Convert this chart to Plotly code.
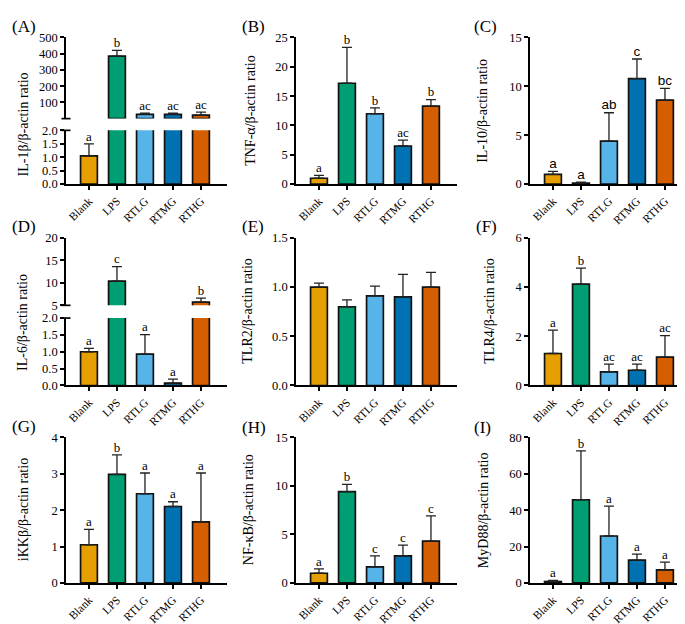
import plotly.graph_objects as go

W, H = 685, 624

groups = ["Blank", "LPS", "RTLG", "RTMG", "RTHG"]
colors = ["#E69F00", "#009E73", "#56B4E9", "#0072B2", "#D55E00"]

# ratio values (mean) and upper SD
il1b = [1.05, 385, 26, 26, 21]
il1b_sd = [0.45, 35, 8, 8, 19]
il1b_sig = ["a", "b", "ac", "ac", "ac"]

tnfa = [1.0, 17.2, 12.0, 6.5, 13.3]
tnfa_sd = [0.5, 6.1, 1.0, 1.0, 1.1]
tnfa_sig = ["a", "b", "b", "ac", "b"]

il10 = [1.0, 0.1, 4.4, 10.8, 8.6]
il10_sd = [0.3, 0.1, 2.9, 2.0, 1.2]
il10_sig = ["a", "a", "ab", "c", "bc"]

il6 = [1.0, 10.4, 0.93, 0.07, 5.7]
il6_sd = [0.1, 3.2, 0.58, 0.12, 0.9]
il6_sig = ["a", "c", "a", "a", "b"]

tlr2 = [1.0, 0.8, 0.91, 0.9, 1.0]
tlr2_sd = [0.04, 0.07, 0.1, 0.23, 0.15]

tlr4 = [1.3, 4.12, 0.55, 0.62, 1.15]
tlr4_sd = [0.95, 0.65, 0.32, 0.25, 0.88]
tlr4_sig = ["a", "b", "ac", "ac", "ac"]

ikkb = [1.05, 2.98, 2.45, 2.1, 1.68]
ikkb_sd = [0.42, 0.54, 0.57, 0.13, 1.34]
ikkb_sig = ["a", "b", "a", "a", "a"]

nfkb = [1.0, 9.4, 1.65, 2.8, 4.3]
nfkb_sd = [0.45, 0.75, 1.15, 1.1, 2.6]
nfkb_sig = ["a", "b", "c", "c", "c"]

myd88 = [0.8, 45.7, 25.8, 12.5, 7.2]
myd88_sd = [0.6, 26.8, 16.4, 3.3, 4.3]
myd88_sig = ["a", "b", "a", "a", "a"]

SERIF = "Liberation Serif"
SANS = "Liberation Sans"

def X(px):
    return px / W

def Y(py):
    return 1 - py / H

def aid(n):
    return "" if n == 1 else str(n)

col_left = [58, 288, 522]
col_len = 161
rows = [(23, 173), (228, 379), (432, 581)]
label_pos = [(2, 12), (232, 12), (464, 12), (2, 216), (232, 216), (466, 216), (2, 421), (232, 422), (464, 422)]
ytitle_x = [15, 243, 475, 15, 240, 482, 15, 240, 475]

panels = [
    dict(tag="(A)", title="IL-1β/β-actin ratio", v=il1b, sd=il1b_sd, sig=il1b_sig,
         low=(0, 2, 0.5, ".1f"), high=(0, 500, 100), seg=((118, 173), (23, 106)), tc=112),
    dict(tag="(B)", title="TNF-α/β-actin ratio", v=tnfa, sd=tnfa_sd, sig=tnfa_sig, low=(0, 25, 5, "")),
    dict(tag="(C)", title="IL-10/β-actin ratio", v=il10, sd=il10_sd, sig=il10_sig, low=(0, 15, 5, ""), sans=True),
    dict(tag="(D)", title="IL-6/β-actin ratio", v=il6, sd=il6_sd, sig=il6_sig,
         low=(0, 2, 0.5, ".1f"), high=(5, 20, 5), seg=((310, 379), (228, 297)), tc=315),
    dict(tag="(E)", title="TLR2/β-actin ratio", v=tlr2, sd=tlr2_sd, sig=None, low=(0, 1.5, 0.5, ".1f")),
    dict(tag="(F)", title="TLR4/β-actin ratio", v=tlr4, sd=tlr4_sd, sig=tlr4_sig, low=(0, 6, 2, "")),
    dict(tag="(G)", title="iKKβ/β-actin ratio", v=ikkb, sd=ikkb_sd, sig=ikkb_sig, low=(0, 4, 1, "")),
    dict(tag="(H)", title="NF-κB/β-actin ratio", v=nfkb, sd=nfkb_sd, sig=nfkb_sig, low=(0, 15, 5, "")),
    dict(tag="(I)", title="MyD88/β-actin ratio", v=myd88, sd=myd88_sd, sig=myd88_sig, low=(0, 80, 20, "")),
]

fig = go.Figure()
layout = dict(width=W, height=H, margin=dict(l=0, r=0, t=0, b=0),
              paper_bgcolor="white", plot_bgcolor="rgba(0,0,0,0)",
              showlegend=False, font=dict(family=SERIF, color="black"),
              annotations=[], shapes=[])

axis_common = dict(showline=True, linecolor="black", linewidth=1.7, ticks="outside",
                   ticklen=4, tickwidth=1.5, tickcolor="black", showgrid=False, zeroline=False,
                   tickfont=dict(family=SERIF, size=12.5, color="black"))

extra = 10
xs = list(range(len(groups)))

def add_bars(p, xa, ya, show):
    vals = [v if s else None for v, s in zip(p["v"], show)]
    fig.add_trace(go.Bar(
        x=xs, y=vals, width=0.6, xaxis=xa, yaxis=ya,
        marker=dict(color=colors, line=dict(color="#111111", width=1.7)),
        error_y=dict(type="data", array=p["sd"], arrayminus=[0] * 5, symmetric=False,
                     color="#222222", thickness=1.3, width=5),
        hoverinfo="skip"))

def add_sig(p, xa, ya, show):
    if not p["sig"]:
        return
    tops = [v + s if sh else None for v, s, sh in zip(p["v"], p["sd"], show)]
    fnt = dict(family=SANS if p.get("sans") else SERIF, size=13.5 if p.get("sans") else 13, color="black")
    fig.add_trace(go.Scatter(x=xs, y=tops, xaxis=xa, yaxis=ya, mode="text",
                             text=p["sig"], textposition="top center", textfont=fnt,
                             cliponaxis=False, hoverinfo="skip"))

for i, p in enumerate(panels):
    r, c = divmod(i, 3)
    n = i + 1
    xa, ya = "x" + aid(n), "y" + aid(n)
    left = col_left[c]
    top, bot = rows[r]
    lo, hi, dt, fmt = p["low"]

    layout["xaxis" + aid(n)] = dict(axis_common, domain=[X(left), X(left + col_len)], anchor=ya,
                                    range=[-0.82, 4.93], tickvals=xs, ticktext=groups, tickangle=-45,
                                    tickfont=dict(family=SERIF, size=11.5, color="black"))
    if "high" in p:
        (lt, lb), (ut, ub) = p["seg"]
        layout["yaxis" + aid(n)] = dict(axis_common, domain=[Y(lb), Y(lt)], anchor=xa,
                                        range=[lo, hi], dtick=dt, tick0=0, tickformat=fmt)
        extra += 1
        yu = f"y{extra}"
        hlo, hhi, hdt = p["high"]
        layout[f"yaxis{extra}"] = dict(axis_common, domain=[Y(ub), Y(ut)], anchor=xa,
                                       range=[hlo, hhi], tickvals=list(range(hlo if hlo else hdt, hhi + 1, hdt)))
        up_show = [v > hi for v in p["v"]]
        sig_low = [v + s <= hi for v, s in zip(p["v"], p["sd"])]
        add_bars(p, xa, ya, [True] * 5)
        add_bars(p, xa, yu, up_show)
        add_sig(p, xa, ya, sig_low)
        add_sig(p, xa, yu, [not s for s in sig_low])
        # break caps
        for yref, yv in ((f"{yu} domain", 0), (f"{ya} domain", 1)):
            layout["shapes"].append(dict(type="line", xref=f"{xa} domain", yref=yref,
                                         x0=-0.028, x1=0.028, y0=yv, y1=yv,
                                         line=dict(color="black", width=1.7)))
        tc = p["tc"]
    else:
        layout["yaxis" + aid(n)] = dict(axis_common, domain=[Y(bot), Y(top)], anchor=xa,
                                        range=[lo, hi], dtick=dt, tick0=0, tickformat=fmt)
        add_bars(p, xa, ya, [True] * 5)
        add_sig(p, xa, ya, [True] * 5)
        tc = (top + bot) / 2

    layout["annotations"].append(dict(text=p["title"], xref="paper", yref="paper",
                                      x=X(ytitle_x[i]), y=Y(tc),
                                      textangle=-90, showarrow=False, xanchor="center", yanchor="middle",
                                      font=dict(family=SERIF, size=14, color="black")))
    lx, ly = label_pos[i]
    layout["annotations"].append(dict(text=p["tag"], xref="paper", yref="paper",
                                      x=X(lx), y=Y(ly), showarrow=False, xanchor="left", yanchor="middle",
                                      font=dict(family=SERIF, size=17, color="black")))

fig.update_layout(**layout)

fig.write_html("out.html")
